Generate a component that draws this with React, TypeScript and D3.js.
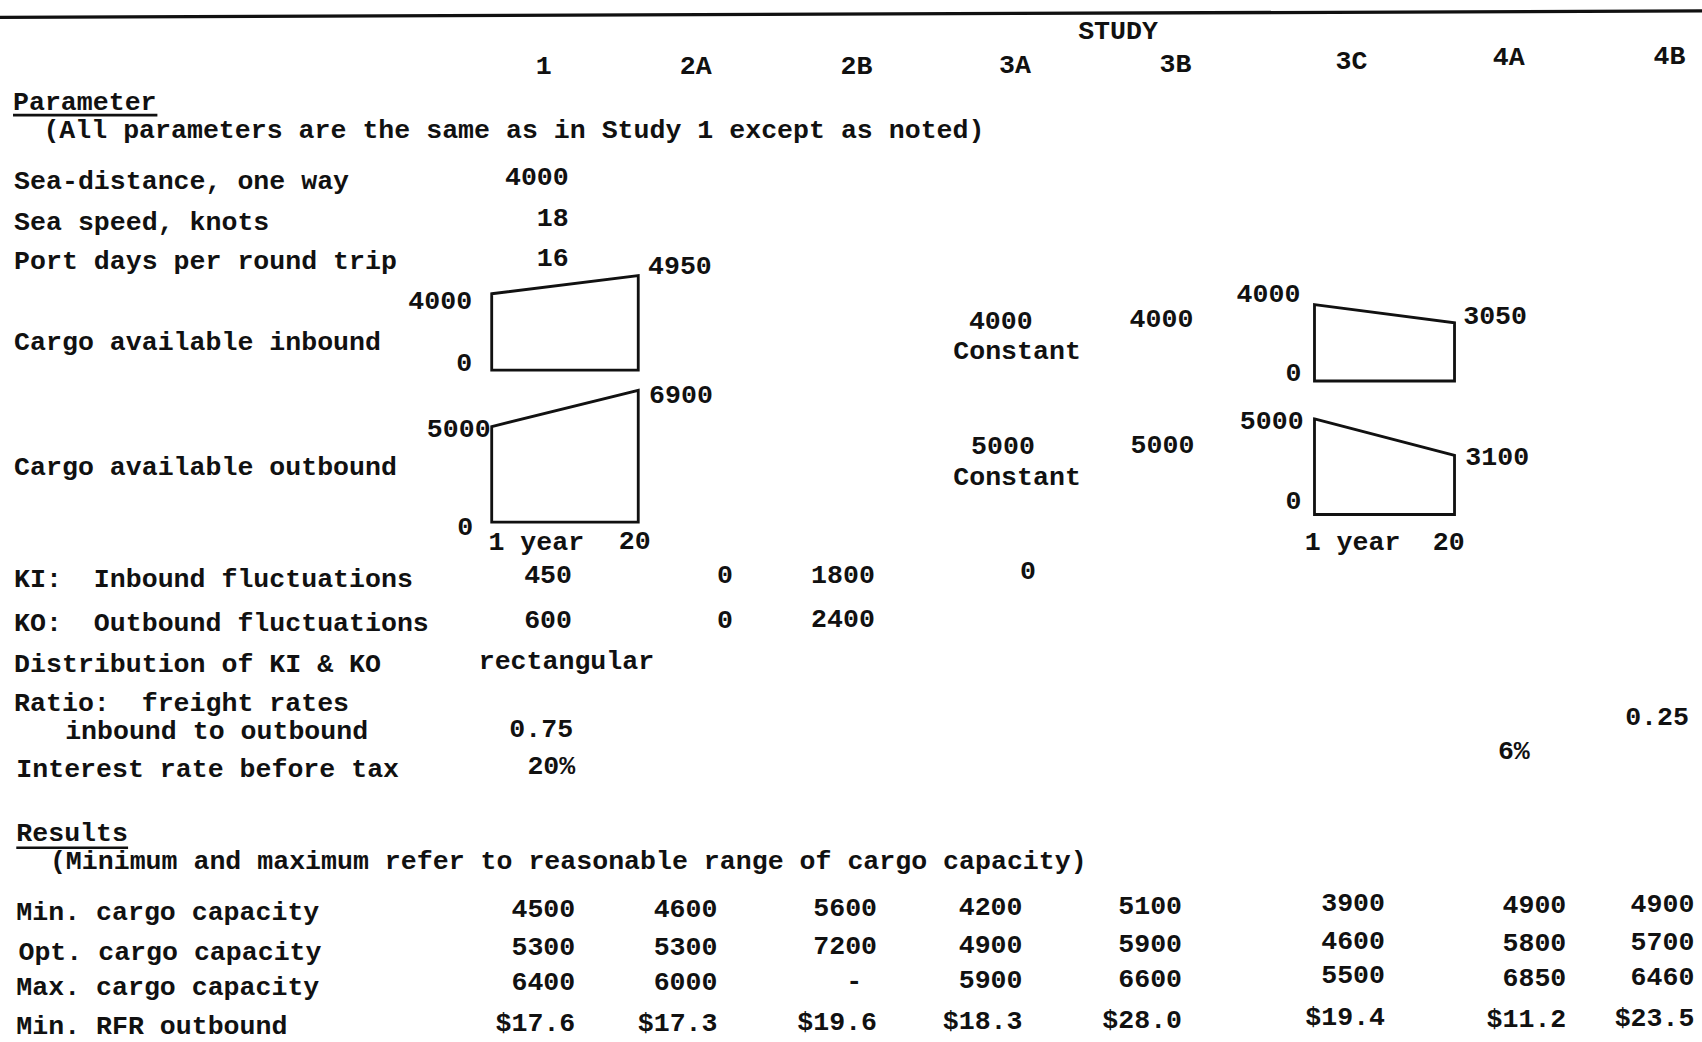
import React from 'react';
import * as d3 from 'd3';

// study columns
const studies = ['1', '2A', '2B', '3A', '3B', '3C', '4A', '4B'];

// parameter row labels
const parameterLabels = [
  'Sea-distance, one way',
  'Sea speed, knots',
  'Port days per round trip',
  'Cargo available inbound',
  'Cargo available outbound',
  'KI:  Inbound fluctuations',
  'KO:  Outbound fluctuations',
  'Distribution of KI & KO',
  'Ratio:  freight rates',
  'inbound to outbound',
  'Interest rate before tax',
];

// study 1 base parameters
const seaDistance = '4000';
const seaSpeed = '18';
const portDays = '16';
const distribution = 'rectangular';
const freightRatio = ['0.75', null, null, null, null, null, null, '0.25'];
const interestRate = ['20%', null, null, null, null, null, '6%', null];
const kiValues = ['450', '0', '1800', '0', null, null, null, null];
const koValues = ['600', '0', '2400', null, null, null, null, null];

// cargo available (tons) over the 20-year life
const inboundStudy1 = [{ year: 1, cargo: 4000 }, { year: 20, cargo: 4950 }];
const outboundStudy1 = [{ year: 1, cargo: 5000 }, { year: 20, cargo: 6900 }];
const inboundStudy3C = [{ year: 1, cargo: 4000 }, { year: 20, cargo: 3050 }];
const outboundStudy3C = [{ year: 1, cargo: 5000 }, { year: 20, cargo: 3100 }];
const constantInbound = 4000;
const constantOutbound = 5000;

// results
const resultLabels = ['Min. cargo capacity', 'Opt. cargo capacity', 'Max. cargo capacity', 'Min. RFR outbound'];
const minCapacity = [4500, 4600, 5600, 4200, 5100, 3900, 4900, 4900];
const optCapacity = [5300, 5300, 7200, 4900, 5900, 4600, 5800, 5700];
const maxCapacity = [6400, 6000, null, 5900, 6600, 5500, 6850, 6460];
const minRfr = [17.6, 17.3, 19.6, 18.3, 28.0, 19.4, 11.2, 23.5];

// ---- layout (drawn in 1568-wide units, scaled up to 1702) ----
const S = 1702 / 1568;
const FONT = '"Liberation Mono", "DejaVu Sans Mono", monospace';
const headerX = [501, 641, 789, 935, 1083, 1245, 1390, 1538];
const headerY = [68, 68, 68, 67, 66, 64, 60, 59];
const labelY = [174, 212, 248, 322, 438, 541, 581, 619, 655, 681, 716];
const labelX = [13, 13, 13, 13, 13, 13, 13, 13, 13, 60, 15];
const paramRight = 526;
const colRight = [530, 661, 808, 942, 1089, 1276, 1443, 1561];
const resultRowY = [845, 880, 912, 950];
const resultDy = [0, 0, -1, -2, -3, -6, -4, -5];
const resultLabelY = [848, 884, 917, 953];
const resultLabelX = [15, 17, 15, 15];

const kPerUnit = 0.0176; // px per ton in the little sketches

interface Trend { year: number; cargo: number; }

function MiniChart({ data, x0, x1, base }: { data: Trend[]; x0: number; x1: number; base: number }) {
  const x = d3.scaleLinear().domain([1, 20]).range([x0, x1]);
  const y = d3.scaleLinear().domain([0, 1000]).range([base, base - 1000 * kPerUnit]);
  const area = d3.area<Trend>()
    .x(d => x(d.year))
    .y0(y(0))
    .y1(d => y(d.cargo));
  return <path d={(area(data) || '') + 'Z'} fill="none" stroke="#111" strokeWidth={2.6} strokeLinejoin="miter" />;
}

function chartY(base: number) {
  return d3.scaleLinear().domain([0, 1000]).range([base, base - 1000 * kPerUnit]);
}

export default function App() {
  const yIn1 = chartY(341);
  const yOut1 = chartY(481);
  const yIn3 = chartY(351);
  const yOut3 = chartY(474);
  const fmtRfr = (v: number) => `$${d3.format('.1f')(v)}`;
  const resultRows: (string | null)[][] = [
    minCapacity.map(v => String(v)),
    optCapacity.map(v => String(v)),
    maxCapacity.map(v => (v == null ? null : String(v))),
    minRfr.map(fmtRfr),
  ];

  const txt = { fontFamily: FONT, fontSize: 24.5, fontWeight: 700, fill: '#111', whiteSpace: 'pre' as const };

  return (
    <svg width={1702} height={1042} style={{ position: 'absolute', left: 0, top: 0, background: '#fff' }}>
      <rect width={1702} height={1042} fill="#fff" />
      <g transform={`scale(${S})`} style={txt} xmlSpace="preserve">
        {/* top rule */}
        <line x1={0} y1={16} x2={1568} y2={10} stroke="#111" strokeWidth={3} />

        <text x={1030} y={36} textAnchor="middle">STUDY</text>
        {studies.map((s, i) => (
          <text key={s} x={headerX[i]} y={headerY[i]} textAnchor="middle">{s}</text>
        ))}

        <text x={12} y={101}>Parameter</text>
        <line x1={12} y1={106} x2={145} y2={106} stroke="#111" strokeWidth={2.5} />
        <text x={40} y={127}>(All parameters are the same as in Study 1 except as noted)</text>

        {parameterLabels.map((l, i) => (
          <text key={l} x={labelX[i]} y={labelY[i]} xmlSpace="preserve">{l}</text>
        ))}

        {/* study 1 scalar parameters */}
        <text x={paramRight - 2} y={170} textAnchor="end">{seaDistance}</text>
        <text x={paramRight - 2} y={208} textAnchor="end">{seaSpeed}</text>
        <text x={paramRight - 2} y={245} textAnchor="end">{portDays}</text>

        {/* cargo available sketches, study 1 */}
        <MiniChart data={inboundStudy1} x0={453} x1={588} base={341} />
        <MiniChart data={outboundStudy1} x0={453} x1={588} base={481} />
        <text x={435} y={yIn1(inboundStudy1[0].cargo) + 14} textAnchor="end">{inboundStudy1[0].cargo}</text>
        <text x={435} y={yIn1(0) + 1} textAnchor="end">0</text>
        <text x={597} y={yIn1(inboundStudy1[1].cargo) - 1}>{inboundStudy1[1].cargo}</text>
        <text x={452} y={yOut1(outboundStudy1[0].cargo) + 10} textAnchor="end">{outboundStudy1[0].cargo}</text>
        <text x={436} y={yOut1(0) + 12} textAnchor="end">0</text>
        <text x={598} y={yOut1(outboundStudy1[1].cargo) + 12}>{outboundStudy1[1].cargo}</text>
        <text x={450} y={507}>1 year</text>
        <text x={570} y={506}>20</text>

        {/* studies 3A / 3B constant cargo */}
        <text x={922} y={303} textAnchor="middle">{constantInbound}</text>
        <text x={937} y={331} textAnchor="middle">Constant</text>
        <text x={1070} y={301} textAnchor="middle">{constantInbound}</text>
        <text x={924} y={418} textAnchor="middle">{constantOutbound}</text>
        <text x={937} y={447} textAnchor="middle">Constant</text>
        <text x={1071} y={417} textAnchor="middle">{constantOutbound}</text>

        {/* cargo available sketches, study 3C */}
        <MiniChart data={inboundStudy3C} x0={1211} x1={1340} base={351} />
        <MiniChart data={outboundStudy3C} x0={1211} x1={1340} base={474} />
        <text x={1198} y={yIn3(inboundStudy3C[0].cargo) - 2} textAnchor="end">{inboundStudy3C[0].cargo}</text>
        <text x={1199} y={yIn3(0)} textAnchor="end">0</text>
        <text x={1348} y={yIn3(inboundStudy3C[1].cargo) + 1}>{inboundStudy3C[1].cargo}</text>
        <text x={1201} y={yOut3(outboundStudy3C[0].cargo) + 9} textAnchor="end">{outboundStudy3C[0].cargo}</text>
        <text x={1199} y={yOut3(0) - 5} textAnchor="end">0</text>
        <text x={1350} y={yOut3(outboundStudy3C[1].cargo) + 9}>{outboundStudy3C[1].cargo}</text>
        <text x={1202} y={507}>1 year</text>
        <text x={1320} y={507}>20</text>

        {/* fluctuations */}
        {kiValues.map((v, i) => v == null ? null : (
          <text key={'ki' + i} x={i === 0 ? 527 : i === 2 ? 806 : headerX[i] + (i === 1 ? 27 : 12)} y={i === 3 ? 533 : 537}
            textAnchor={i === 0 || i === 2 ? 'end' : 'middle'}>{v}</text>
        ))}
        {koValues.map((v, i) => v == null ? null : (
          <text key={'ko' + i} x={i === 0 ? 527 : i === 2 ? 806 : headerX[i] + 27} y={i === 2 ? 578 : 579}
            textAnchor={i === 0 || i === 2 ? 'end' : 'middle'}>{v}</text>
        ))}
        <text x={441} y={616}>{distribution}</text>
        <text x={528} y={679} textAnchor="end">{freightRatio[0]}</text>
        <text x={1556} y={668} textAnchor="end">{freightRatio[7]}</text>
        <text x={530} y={713} textAnchor="end">{interestRate[0]}</text>
        <text x={1380} y={699}>{interestRate[6]}</text>

        {/* results */}
        <text x={15} y={775}>Results</text>
        <line x1={15} y1={781} x2={118} y2={781} stroke="#111" strokeWidth={2.5} />
        <text x={46} y={801}>(Minimum and maximum refer to reasonable range of cargo capacity)</text>
        {resultLabels.map((l, r) => (
          <text key={l} x={resultLabelX[r]} y={resultLabelY[r]}>{l}</text>
        ))}
        {resultRows.map((row, r) => row.map((v, i) => (
          <text key={r + '-' + i}
            x={v == null ? colRight[i] - 21 : colRight[i]}
            y={resultRowY[r] + resultDy[i]}
            textAnchor={v == null ? 'middle' : 'end'}>{v == null ? '-' : v}</text>
        )))}
      </g>
    </svg>
  );
}
